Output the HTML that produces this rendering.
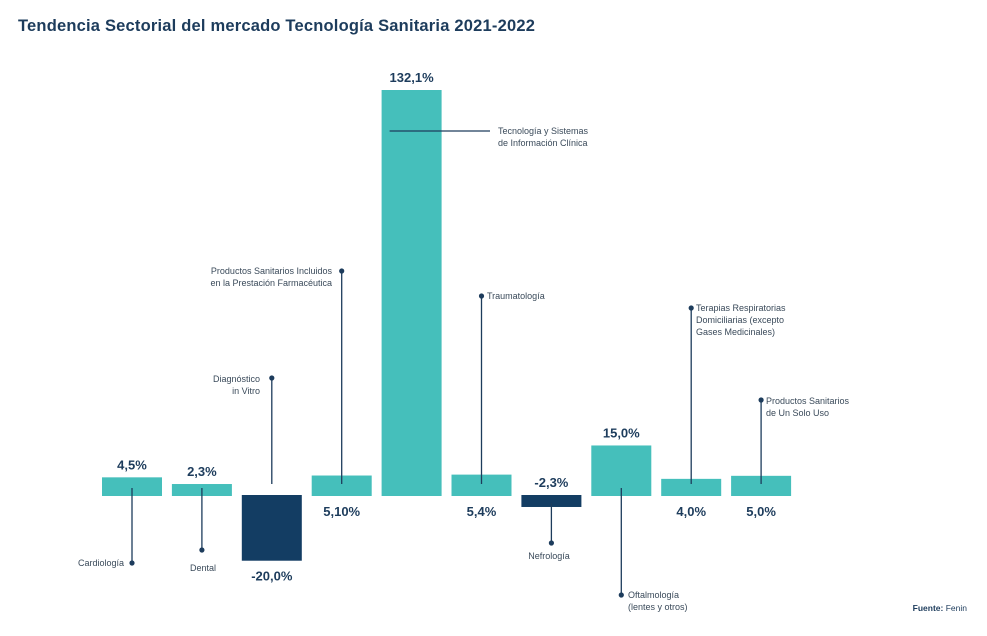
<!DOCTYPE html>
<html><head><meta charset="utf-8"><style>
body{margin:0;background:#fff;}
svg text{font-family:"Liberation Sans",sans-serif;}
</style></head><body>
<svg width="987" height="631" viewBox="0 0 987 631" xmlns="http://www.w3.org/2000/svg">
<text x="18" y="31" font-size="16.5" font-weight="bold" fill="#1d3c5c" letter-spacing="0.2">Tendencia Sectorial del mercado Tecnología Sanitaria 2021-2022</text>
<g id="bars"></g>
<g id="ann"></g>
<text x="967" y="611" font-size="8.5" fill="#1d3c5c" text-anchor="end"><tspan font-weight="bold">Fuente:</tspan> Fenin</text>
</svg>
<script>
const categories=["Cardiología","Dental","Diagnóstico in Vitro","Productos Sanitarios Incluidos en la Prestación Farmacéutica","Tecnología y Sistemas de Información Clínica","Traumatología","Nefrología","Oftalmología (lentes y otros)","Terapias Respiratorias Domiciliarias","Productos Sanitarios de Un Solo Uso"];
const values=[4.5,2.3,-20.0,5.1,132.1,5.4,-2.3,15.0,4.0,5.0];
const valueLabels=["4,5%","2,3%","-20,0%","5,10%","132,1%","5,4%","-2,3%","15,0%","4,0%","5,0%"];
const labelAbove=[true,true,false,false,true,false,true,true,false,false];
// annotation layout (positions, not data)
const ann=[
 {y2:563,lines:["Cardiología"],lx:124,ly:566,anchor:"end"},
 {y2:550,lines:["Dental"],lx:203,ly:571,anchor:"middle"},
 {y2:378,lines:["Diagnóstico","in Vitro"],lx:260,ly:382,anchor:"end"},
 {y2:271,lines:["Productos Sanitarios Incluidos","en la Prestación Farmacéutica"],lx:332,ly:274,anchor:"end"},
 {horiz:true,y:131,x2:490,lines:["Tecnología y Sistemas","de Información Clínica"],lx:498,ly:134,anchor:"start"},
 {y2:296,lines:["Traumatología"],lx:487,ly:299,anchor:"start"},
 {y2:543,lines:["Nefrología"],lx:549,ly:559,anchor:"middle"},
 {y2:595,lines:["Oftalmología","(lentes y otros)"],lx:628,ly:598,anchor:"start"},
 {y2:308,lines:["Terapias Respiratorias","Domiciliarias (excepto","Gases Medicinales)"],lx:696,ly:311,anchor:"start"},
 {y2:400,lines:["Productos Sanitarios","de Un Solo Uso"],lx:766,ly:404,anchor:"start"}
];
const NS="http://www.w3.org/2000/svg";
const base=496, off=5, scale=(406-off)/132.1, x0=102, step=69.9, bw=60;
function hOf(v){return off+Math.abs(v)*scale;}
function xOf(i){return x0+i*step;}
const gb=document.getElementById('bars'), ga=document.getElementById('ann');
function mk(tag,attrs,parent){const e=document.createElementNS(NS,tag);for(const k in attrs)e.setAttribute(k,attrs[k]);parent.appendChild(e);return e;}
values.forEach((v,i)=>{
  const x=xOf(i), h=hOf(v), top=v<0?base-1:base-h;
  const r=mk('rect',{x:x,y:top,width:bw,height:h,fill:v<0?'#133d63':'#45bfbb'},gb);
  
  
  const cx=x+bw/2;
  const ty=labelAbove[i]?top-8:top+h+20;
  const t=mk('text',{x:cx,y:ty,'text-anchor':'middle','font-size':'13','font-weight':'bold',fill:'#1d3c5c'},gb);
  t.textContent=valueLabels[i];
  
  
  const a=ann[i];
  const g=mk('g',{},ga);
  
  
  if(a.horiz){
    mk('line',{x1:cx-22,y1:a.y,x2:a.x2,y2:a.y,stroke:'#1d3c5c','stroke-width':1.3},g);
  } else {
    const y1=a.y2>base?(v<0?top+h-4:base-8):base-12;
    mk('line',{x1:cx,y1:y1,x2:cx,y2:a.y2,stroke:'#1d3c5c','stroke-width':1.3},g);
    mk('circle',{cx:cx,cy:a.y2,r:2.6,fill:'#1d3c5c'},g);
  }
  a.lines.forEach((ln,j)=>{
    const tt=mk('text',{x:a.lx,y:a.ly+j*12,'text-anchor':a.anchor,'font-size':'9',fill:'#3a4a5a'},g);
    tt.textContent=ln;
  });
});
</script>
</body></html>
